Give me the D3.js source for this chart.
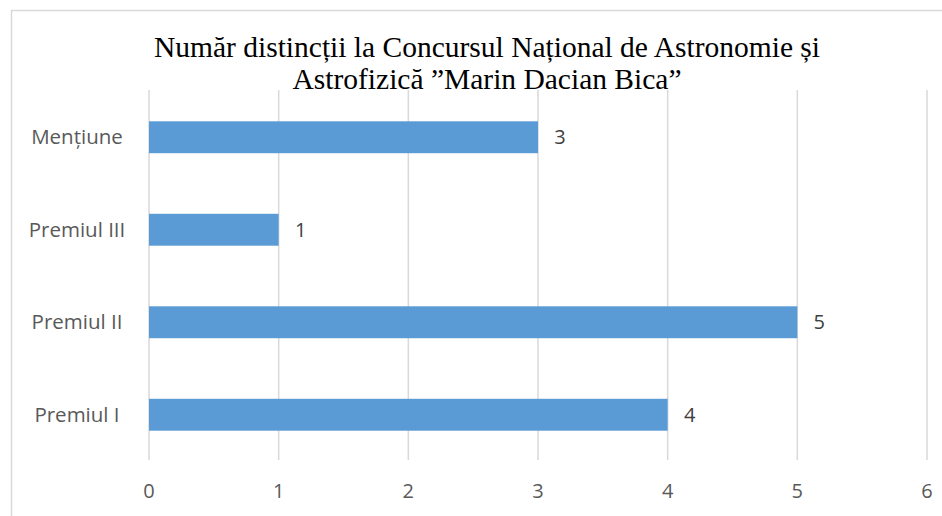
<!DOCTYPE html>
<html>
<head>
<meta charset="utf-8">
<script src="https://cdn.jsdelivr.net/npm/d3@7"></script>
<style>
  body { margin: 0; background: #fff; }
  svg { display: block; }
</style>
</head>
<body>
<svg></svg>
<script>
// data
var categories = ["Mențiune", "Premiul III", "Premiul II", "Premiul I"];
var values = [3, 1, 5, 4];
var xTicks = [0, 1, 2, 3, 4, 5, 6];
var titleLines = ["Număr distincții la Concursul Național de Astronomie și", "Astrofizică ”Marin Dacian Bica”"];

var width = 942;
var height = 516;

var svg = d3.select("svg")
            .attr("width", width)
            .attr("height", height);

// chart border (right and bottom run off the page)
svg.append("rect")
   .attr("x", 11.5)
   .attr("y", 10.5)
   .attr("width", 940)
   .attr("height", 520)
   .attr("fill", "none")
   .attr("stroke", "#d9d9d9")
   .attr("stroke-width", 1.5);

var plotTop = 91, plotBottom = 461;

var xScale = d3.scaleLinear()
               .domain([0, 6])
               .range([149, 927]);

var yScale = d3.scaleBand()
               .domain(categories)
               .range([plotTop, plotBottom])
               .paddingInner(0.655)
               .paddingOuter(0.3275);

var labelFont = "'Open Sans', sans-serif";

// vertical gridlines
svg.append("g")
   .selectAll("line")
   .data(xTicks)
   .enter().append("line")
     .attr("x1", d => xScale(d))
     .attr("x2", d => xScale(d))
     .attr("y1", plotTop - 1)
     .attr("y2", plotBottom - 1)
     .attr("stroke", "#d9d9d9")
     .attr("stroke-width", 1.5);

// x tick labels
svg.append("g")
   .selectAll("text")
   .data(xTicks)
   .enter().append("text")
     .attr("x", d => xScale(d))
     .attr("y", 498)
     .attr("text-anchor", "middle")
     .attr("fill", "#595959")
     .style("font-family", labelFont)
     .style("font-size", "20px")
     .text(d => d);

// category labels (centered in the label area, as in the original)
svg.append("g")
   .selectAll("text")
   .data(categories)
   .enter().append("text")
     .attr("x", 77)
     .attr("y", d => yScale(d) + yScale.bandwidth() / 2)
     .attr("dy", "0.35em")
     .attr("text-anchor", "middle")
     .attr("fill", "#595959")
     .style("font-family", labelFont)
     .style("font-size", "20.5px")
     .text(d => d);

// bars
svg.append("g")
   .selectAll("rect")
   .data(categories)
   .enter().append("rect")
     .attr("x", xScale(0))
     .attr("y", d => yScale(d))
     .attr("width", (d, i) => xScale(values[i]) - xScale(0))
     .attr("height", yScale.bandwidth())
     .attr("fill", "#5b9bd5");

// value labels
svg.append("g")
   .selectAll("text")
   .data(categories)
   .enter().append("text")
     .attr("x", (d, i) => xScale(values[i]) + 22)
     .attr("y", d => yScale(d) + yScale.bandwidth() / 2)
     .attr("dy", "0.35em")
     .attr("text-anchor", "middle")
     .attr("fill", "#404040")
     .style("font-family", labelFont)
     .style("font-size", "20px")
     .text((d, i) => values[i]);

// title
svg.append("g")
   .selectAll("text")
   .data(titleLines)
   .enter().append("text")
     .attr("x", 487)
     .attr("y", (d, i) => 57 + i * 32)
     .attr("text-anchor", "middle")
     .attr("fill", "#000")
     .style("font-family", "'Liberation Serif', 'Times New Roman', serif")
     .style("font-size", "29.5px")
     .text(d => d);
</script>
</body>
</html>
